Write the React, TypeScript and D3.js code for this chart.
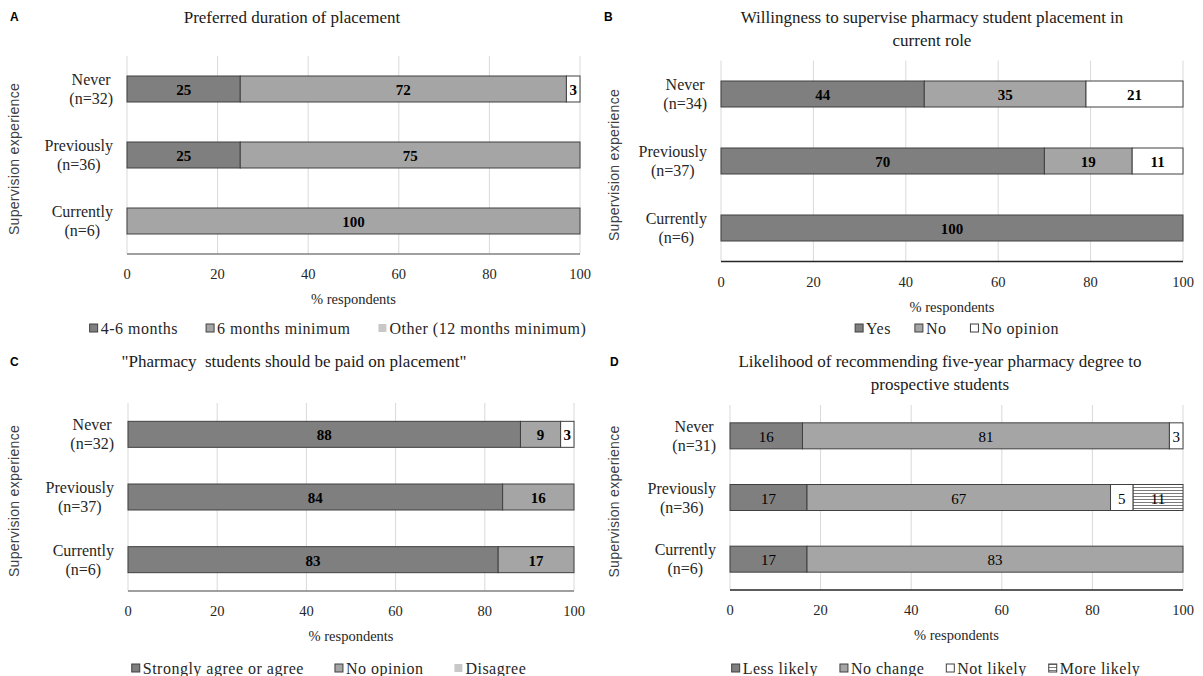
import React from "react";
import * as d3 from "d3";

// ---------- DATA ----------
const groups = ["Never", "Previously", "Currently"];
const nA = [32, 36, 6];
const nB = [34, 37, 6];
const nC = [32, 37, 6];
const nD = [31, 36, 6];
const xTicks = [0, 20, 40, 60, 80, 100];

const titleA = ["Preferred duration of placement"];
const titleB = ["Willingness to supervise pharmacy student placement in", "current role"];
const titleC = ["\"Pharmacy  students should be paid on placement\""];
const titleD = ["Likelihood of recommending five-year pharmacy degree to", "prospective students"];

const seriesNamesA = ["4-6 months", "6 months minimum", "Other (12 months minimum)"];
const a46 = [25, 25, 0];
const a6min = [72, 75, 100];
const aOther = [3, 0, 0];

const seriesNamesB = ["Yes", "No", "No opinion"];
const bYes = [44, 70, 100];
const bNo = [35, 19, 0];
const bNoOp = [21, 11, 0];

const seriesNamesC = ["Strongly agree or agree", "No opinion", "Disagree"];
const cAgree = [88, 84, 83];
const cNoOp = [9, 16, 17];
const cDisagree = [3, 0, 0];

const seriesNamesD = ["Less likely", "No change", "Not likely", "More likely"];
const dLess = [16, 17, 17];
const dNoChange = [81, 67, 83];
const dNotLikely = [3, 5, 0];
const dMore = [0, 11, 0];

// ---------- STYLE / LAYOUT ----------
const SERIF = "'Liberation Serif', 'Times New Roman', serif";
const SANS = "'Liberation Sans', Arial, sans-serif";
const DARK = "#7f7f7f";
const MID = "#a5a5a5";
const LIGHT = "#c8c8c8";
const WHITE = "#ffffff";
const HATCH = "url(#hatchH)";

type Panel = {
  letter: string;
  letterX: number;
  letterY: number;
  title: string[];
  titleX: number;
  titleY: number;
  x0: number;
  x1: number;
  top: number;
  bottom: number;
  ns: number[];
  names: string[];
  values: number[][];
  fills: string[];
  legendFills: string[];
  legendStroke: boolean[];
  bold: boolean;
  yTitleX: number;
  axisColor: string;
  legendY: number;
  legendCx: number;
  legendGap: number;
};

const panels: Panel[] = [
  {
    letter: "A", letterX: 10, letterY: 17, title: titleA, titleX: 292, titleY: 17,
    x0: 127, x1: 580, top: 56, bottom: 254, ns: nA, names: seriesNamesA,
    values: [a46, a6min, aOther], fills: [DARK, MID, WHITE], legendFills: [DARK, MID, LIGHT],
    legendStroke: [true, true, false], bold: true, yTitleX: 14, axisColor: "#808080",
    legendY: 328, legendCx: 338, legendGap: 28,
  },
  {
    letter: "B", letterX: 604, letterY: 17, title: titleB, titleX: 932, titleY: 17,
    x0: 721, x1: 1183, top: 60.5, bottom: 261.5, ns: nB, names: seriesNamesB,
    values: [bYes, bNo, bNoOp], fills: [DARK, MID, WHITE], legendFills: [DARK, MID, WHITE],
    legendStroke: [true, true, true], bold: true, yTitleX: 614, axisColor: "#262626",
    legendY: 328, legendCx: 957, legendGap: 24,
  },
  {
    letter: "C", letterX: 10, letterY: 362, title: titleC, titleX: 294, titleY: 361,
    x0: 128, x1: 574, top: 403, bottom: 591, ns: nC, names: seriesNamesC,
    values: [cAgree, cNoOp, cDisagree], fills: [DARK, MID, WHITE], legendFills: [DARK, MID, LIGHT],
    legendStroke: [true, true, false], bold: true, yTitleX: 14, axisColor: "#808080",
    legendY: 668, legendCx: 329, legendGap: 31,
  },
  {
    letter: "D", letterX: 610, letterY: 362, title: titleD, titleX: 940, titleY: 361,
    x0: 730, x1: 1183, top: 405, bottom: 590, ns: nD, names: seriesNamesD,
    values: [dLess, dNoChange, dNotLikely, dMore], fills: [DARK, MID, WHITE, HATCH],
    legendFills: [DARK, MID, WHITE, HATCH], legendStroke: [true, true, true, true],
    bold: false, yTitleX: 614, axisColor: "#262626",
    legendY: 668, legendCx: 936, legendGap: 22,
  },
];

let ctx: CanvasRenderingContext2D | null = null;
function measure(text: string, font: string, ls = 0): number {
  if (!ctx) ctx = document.createElement("canvas").getContext("2d");
  if (!ctx) return text.length * 7;
  ctx.font = font;
  return ctx.measureText(text).width + ls * text.length;
}

const LEG_FONT = 16;
const LEG_LS = 0.5;
const CAT_FONT = 16;

function PanelChart({ p }: { p: Panel }) {
  const x = d3.scaleLinear().domain([0, 100]).range([p.x0, p.x1]);
  const y = d3.scaleBand<string>().domain(groups).range([p.top, p.bottom]).padding(0);
  const barH = 26;
  const keys = p.names.map((_, i) => String(i));
  const rows = groups.map((g, gi) => {
    const r: any = { g };
    keys.forEach((k, si) => (r[k] = p.values[si][gi]));
    return r;
  });
  const stacked = d3.stack<any>().keys(keys)(rows);

  // legend layout
  const legFont = `${LEG_FONT}px ${SERIF}`;
  const items = p.names.map((n) => ({ n, w: 8 + 3 + measure(n, legFont, LEG_LS) }));
  const total = d3.sum(items, (d) => d.w) + p.legendGap * (items.length - 1);
  let lx = p.legendCx - total / 2;
  const legPos = items.map((it) => {
    const pos = lx;
    lx += it.w + p.legendGap;
    return pos;
  });

  const catFont = `${CAT_FONT}px ${SERIF}`;
  const axisY = p.bottom;
  const midY = (p.top + p.bottom) / 2;

  return (
    <g>
      <text x={p.letterX} y={p.letterY} fontFamily={SANS} fontWeight="bold" fontSize={12}
        dominantBaseline="central" fill="#000">{p.letter}</text>
      {p.title.map((t, i) => (
        <text key={i} x={p.titleX} y={p.titleY + i * 23} textAnchor="middle" dominantBaseline="central"
          fontFamily={SERIF} fontSize={17} fill="#1a1a1a" style={{ whiteSpace: "pre" }}>{t}</text>
      ))}
      {/* gridlines */}
      {xTicks.map((t) => (
        <line key={t} x1={x(t)} x2={x(t)} y1={p.top} y2={axisY} stroke="#d9d9d9" strokeWidth={1} />
      ))}
      {/* bars */}
      {stacked.map((s, si) => (
        <g key={si}>
          {s.map((d, gi) => {
            const v = d[1] - d[0];
            if (v <= 0) return null;
            const yc = (y(groups[gi]) as number) + y.bandwidth() / 2;
            return (
              <g key={gi}>
                <rect x={x(d[0])} y={yc - barH / 2} width={x(d[1]) - x(d[0])} height={barH}
                  fill={p.fills[si]} stroke="#404040" strokeWidth={1} />
                <text x={(x(d[0]) + x(d[1])) / 2} y={yc + 1} textAnchor="middle" dominantBaseline="central"
                  fontFamily={SERIF} fontSize={15} fontWeight={p.bold ? "bold" : "normal"} fill="#000">{v}</text>
              </g>
            );
          })}
        </g>
      ))}
      {/* axis line */}
      <line x1={p.x0} x2={p.x1} y1={axisY} y2={axisY} stroke={p.axisColor} strokeWidth={1.3} />
      {xTicks.map((t) => (
        <text key={t} x={x(t)} y={axisY + 20} textAnchor="middle" dominantBaseline="central"
          fontFamily={SERIF} fontSize={14.5} fill="#262626">{t}</text>
      ))}
      <text x={(p.x0 + p.x1) / 2} y={axisY + 45} textAnchor="middle" dominantBaseline="central"
        fontFamily={SERIF} fontSize={14.5} fill="#262626">% respondents</text>
      {/* category labels */}
      {groups.map((g, gi) => {
        const l1 = g;
        const l2 = `(n=${p.ns[gi]})`;
        const w = Math.max(measure(l1, catFont), measure(l2, catFont));
        const cx = p.x0 - 14 - w / 2;
        const yc = (y(g) as number) + y.bandwidth() / 2;
        return (
          <g key={g}>
            <text x={cx} y={yc - 9.5} textAnchor="middle" dominantBaseline="central" fontFamily={SERIF}
              fontSize={CAT_FONT} fill="#262626">{l1}</text>
            <text x={cx} y={yc + 9.5} textAnchor="middle" dominantBaseline="central" fontFamily={SERIF}
              fontSize={CAT_FONT} fill="#262626">{l2}</text>
          </g>
        );
      })}
      {/* y title */}
      <text transform={`translate(${p.yTitleX},${midY + 4}) rotate(-90)`} textAnchor="middle"
        dominantBaseline="central" fontFamily={SANS} fontSize={14} fill="#404040"
        letterSpacing={0.3}>Supervision experience</text>
      {/* legend */}
      {items.map((it, i) => (
        <g key={i}>
          <rect x={legPos[i]} y={p.legendY - 4} width={8} height={8} fill={p.legendFills[i]}
            stroke={p.legendStroke[i] ? "#404040" : "none"} strokeWidth={1} />
          <text x={legPos[i] + 11} y={p.legendY} dominantBaseline="central" fontFamily={SERIF}
            fontSize={LEG_FONT} letterSpacing={LEG_LS} fill="#262626">{it.n}</text>
        </g>
      ))}
    </g>
  );
}

export default function App() {
  return (
    <svg width={1203} height={676} style={{ position: "absolute", left: 0, top: 0, background: "#fff" }}>
      <defs>
        <pattern id="hatchH" patternUnits="userSpaceOnUse" width={6} height={3}>
          <rect width={6} height={3} fill="#fff" />
          <line x1={0} x2={6} y1={1.5} y2={1.5} stroke="#595959" strokeWidth={0.8} />
        </pattern>
      </defs>
      <rect width={1203} height={676} fill="#fff" />
      {panels.map((p) => (
        <PanelChart key={p.letter} p={p} />
      ))}
    </svg>
  );
}
